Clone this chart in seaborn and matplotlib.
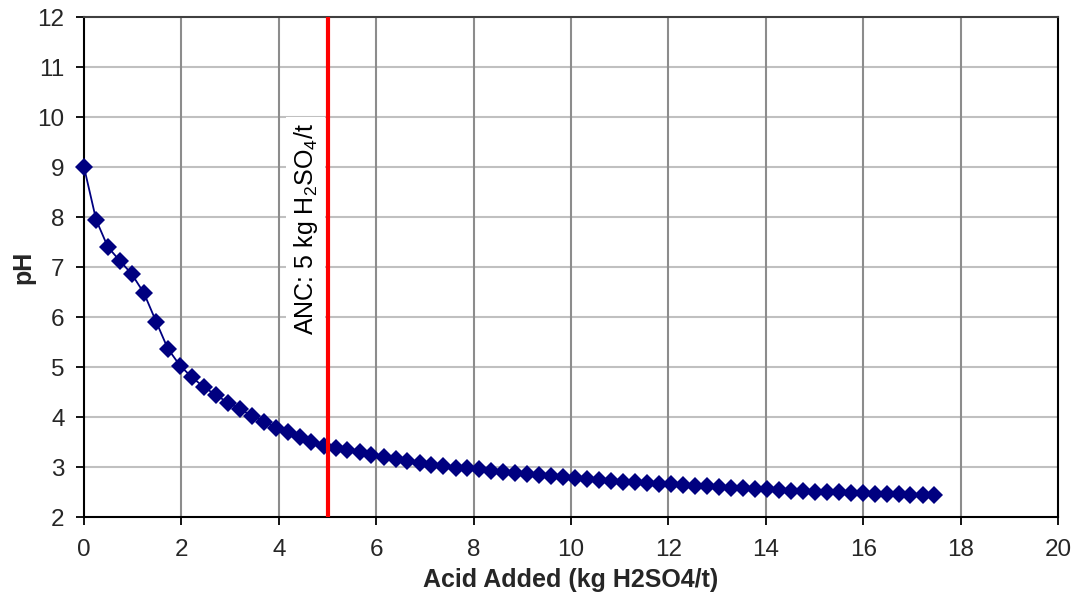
import matplotlib
matplotlib.use("Agg")
import matplotlib.pyplot as plt
import seaborn as sns
import pandas as pd

acid_added = [0.00, 0.25, 0.49, 0.74, 0.98, 1.23, 1.48, 1.72, 1.97, 2.21,
              2.46, 2.71, 2.95, 3.20, 3.44, 3.69, 3.94, 4.18, 4.43, 4.67,
              4.92, 5.17, 5.41, 5.66, 5.90, 6.15, 6.40, 6.64, 6.89, 7.13,
              7.38, 7.63, 7.87, 8.12, 8.36, 8.61, 8.86, 9.10, 9.35, 9.59,
              9.84, 10.09, 10.33, 10.58, 10.82, 11.07, 11.32, 11.56, 11.81, 12.05,
              12.30, 12.55, 12.79, 13.04, 13.28, 13.53, 13.78, 14.02, 14.27, 14.51,
              14.76, 15.01, 15.25, 15.50, 15.74, 15.99, 16.24, 16.48, 16.73, 16.97,
              17.22, 17.46]
ph = [9.00, 7.94, 7.40, 7.12, 6.86, 6.48, 5.91, 5.37, 5.03, 4.80,
      4.60, 4.44, 4.29, 4.16, 4.03, 3.91, 3.79, 3.70, 3.60, 3.51,
      3.43, 3.39, 3.34, 3.30, 3.24, 3.20, 3.16, 3.12, 3.09, 3.04,
      3.02, 2.99, 2.98, 2.96, 2.93, 2.90, 2.88, 2.86, 2.84, 2.82,
      2.80, 2.78, 2.76, 2.74, 2.72, 2.71, 2.70, 2.68, 2.67, 2.66,
      2.64, 2.63, 2.62, 2.60, 2.59, 2.58, 2.57, 2.56, 2.54, 2.53,
      2.53, 2.51, 2.51, 2.50, 2.49, 2.48, 2.47, 2.47, 2.46, 2.45,
      2.45, 2.44]
anc_value = 5
anc_label = "ANC: 5 kg H$_2$SO$_4$/t"
x_label = "Acid Added (kg H2SO4/t)"
y_label = "pH"
x_ticks = list(range(0, 21, 2))
y_ticks = list(range(2, 13, 1))

sns.set_theme(style="white")
plt.rcParams['font.family'] = ['Liberation Sans', 'DejaVu Sans']
plt.rcParams['mathtext.fontset'] = 'custom'
plt.rcParams['mathtext.rm'] = 'Liberation Sans'
plt.rcParams['mathtext.it'] = 'Liberation Sans'

df = pd.DataFrame({"x": acid_added, "y": ph})

fig = plt.figure(figsize=(10.78, 5.99), dpi=100)
ax = fig.add_axes([84/1078, 1 - 517/599, (1058-84)/1078, (517-17)/599])

ax.set_xlim(0, 20)
ax.set_ylim(2, 12)
ax.set_xticks(x_ticks)
ax.set_yticks(y_ticks)

for yv in y_ticks[1:-1]:
    ax.axhline(yv, color="#c0c0c0", lw=1.5, zorder=0)
for xv in x_ticks[1:-1]:
    ax.axvline(xv, color="#8c8c8c", lw=1.5, zorder=0)

sns.lineplot(data=df, x="x", y="y", ax=ax, color="#000080", lw=1.3,
             marker="D", markersize=9, markeredgewidth=0, zorder=3, clip_on=False)

ax.axvline(anc_value, color="#ff0000", lw=3, zorder=4)
ax.text(anc_value - 0.45, 7.76, anc_label, rotation=90, ha="center", va="center",
        fontsize=18, color="black", zorder=2,
        bbox=dict(facecolor="white", edgecolor="none", pad=4))

for side in ["left", "bottom", "right"]:
    ax.spines[side].set_color("black")
    ax.spines[side].set_linewidth(1.5)
ax.spines["top"].set_color("#404040")
ax.spines["top"].set_linewidth(1.5)

ax.tick_params(axis="both", which="major", direction="out", length=6, width=1.3,
               color="black", labelsize=17.5, bottom=True, left=True)
ax.tick_params(axis="x", pad=10)
ax.tick_params(axis="y", pad=8)
ax.set_xlabel(x_label, fontsize=18, fontweight="bold", labelpad=5)
ax.set_ylabel(y_label, fontsize=18, fontweight="bold")
ax.yaxis.set_label_coords(-0.05, 0.5)

fig.savefig("out.png", dpi=100)
